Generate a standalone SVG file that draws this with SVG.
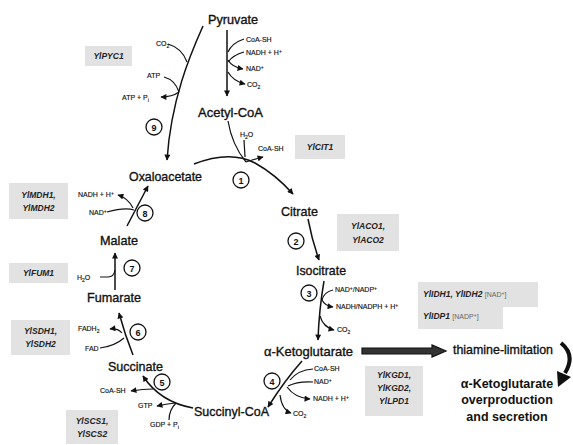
<svg xmlns="http://www.w3.org/2000/svg" width="573" height="445" viewBox="0 0 573 445">
<defs>
<marker id="ah" viewBox="0 0 10 10" refX="9" refY="5" markerWidth="7" markerHeight="6" markerUnits="userSpaceOnUse" orient="auto">
<path d="M0,0 L10,5 L0,10 z" fill="#111"/>
</marker>
<style>
.m{font-family:"Liberation Sans",Arial,sans-serif;font-size:13px;fill:#111;stroke:#111;stroke-width:0.35}
.s{font-family:"Liberation Sans",Arial,sans-serif;font-size:7px;fill:#111;stroke:#111;stroke-width:0.15}
.e{font-family:"Liberation Sans",Arial,sans-serif;font-size:8.5px;font-weight:bold;font-style:italic;fill:#222}
.g{font-family:"Liberation Sans",Arial,sans-serif;font-size:7px;fill:#666}
.box{fill:#e2e2e2}
.ln{fill:none;stroke:#111;stroke-width:1.5}
.br{fill:none;stroke:#111;stroke-width:1.2}
.c{fill:#fff;stroke:#111;stroke-width:1.3}
.n{font-family:"Liberation Sans",Arial,sans-serif;font-size:9px;font-weight:bold;fill:#111;text-anchor:middle}
.b{font-family:"Liberation Sans",Arial,sans-serif;font-size:12.5px;font-weight:bold;fill:#111;text-anchor:middle}
</style>
</defs>
<rect width="573" height="445" fill="#fff"/>

<g id="connectors">
<!-- Pyruvate -> Acetyl-CoA -->
<path class="ln" d="M227,30 L227,96" marker-end="url(#ah)"/>
<path class="br" d="M244,39 Q232,43 228,52"/>
<path class="br" d="M244,52 Q233,55 228,62"/>
<path class="br" d="M228,60 Q232,67 243,69" marker-end="url(#ah)"/>
<path class="br" d="M228,72 Q233,81 245,84" marker-end="url(#ah)"/>
<!-- reaction 9 -->
<path class="ln" d="M203,26 C190,55 171,100 167,160" marker-end="url(#ah)"/>
<path class="br" d="M168,44 Q182,48 187,62"/>
<path class="br" d="M164,77 Q175,80 179,92"/>
<path class="br" d="M179,92 Q172,97 161,97" marker-end="url(#ah)"/>
<!-- reaction 1 -->
<path class="ln" d="M194,164 Q230,150 255,163 Q275,174 293,194" marker-end="url(#ah)"/>
<path class="br" d="M228,121 Q232,145 246,162"/>
<path class="br" d="M244,140 L245,157"/>
<path class="br" d="M246,162 Q252,160 263,157" marker-end="url(#ah)"/>
<!-- reaction 2 -->
<path class="ln" d="M308,219 Q312,240 319,260" marker-end="url(#ah)"/>
<!-- reaction 3 -->
<path class="ln" d="M324,281 Q319,310 318,340" marker-end="url(#ah)"/>
<path class="br" d="M333,290 Q324,292 322,300"/>
<path class="br" d="M322,300 Q325,306 333,307" marker-end="url(#ah)"/>
<path class="br" d="M320,316 Q323,327 334,330" marker-end="url(#ah)"/>
<!-- reaction 4 -->
<path class="ln" d="M302,361 Q285,380 268,407" marker-end="url(#ah)"/>
<path class="br" d="M313,369 Q298,370 290,380"/>
<path class="br" d="M313,382 Q298,381 288,386"/>
<path class="br" d="M287,387 Q295,398 310,399" marker-end="url(#ah)"/>
<path class="br" d="M280,395 Q282,410 291,413" marker-end="url(#ah)"/>
<!-- reaction 5 -->
<path class="ln" d="M193,408 Q160,402 143,376" marker-end="url(#ah)"/>
<path class="br" d="M153,389 Q143,389 131,391" marker-end="url(#ah)"/>
<path class="br" d="M175,403 Q166,404 157,406" marker-end="url(#ah)"/>
<path class="br" d="M169,420 Q169,410 176,403"/>
<!-- reaction 6 -->
<path class="ln" d="M133,355 Q125,335 119,313" marker-end="url(#ah)"/>
<path class="br" d="M122,333 Q118,328 110,329" marker-end="url(#ah)"/>
<path class="br" d="M100,348 Q115,346 124,338"/>
<!-- reaction 7 -->
<path class="ln" d="M115,290 L115,253" marker-end="url(#ah)"/>
<path class="br" d="M100,277 L108,277 Q114,277 115,270"/>
<!-- reaction 8 -->
<path class="ln" d="M127,226 L148,186" marker-end="url(#ah)"/>
<path class="br" d="M133,208 Q128,198 118,195" marker-end="url(#ah)"/>
<path class="br" d="M107,212 Q125,207 134,210"/>
<!-- to thiamine-limitation -->
<path d="M362,348 L432,348 L432,345 L446,351 L432,357 L432,354 L362,354 Z" fill="#333" stroke="#111" stroke-width="1.2"/>
<!-- curved thick arrow -->
<path d="M561,343 Q576,355 565,373" fill="none" stroke="#111" stroke-width="4"/>
<polygon points="557,371 571,377 558,387" fill="#111"/>
</g>

<g id="pyruvate"><text class="m" x="208" y="24" textLength="50" lengthAdjust="spacingAndGlyphs">Pyruvate</text></g>
<g id="acetylcoa"><text class="m" x="198" y="117" textLength="65" lengthAdjust="spacingAndGlyphs">Acetyl-CoA</text></g>
<g id="oxaloacetate"><text class="m" x="129" y="181" textLength="73" lengthAdjust="spacingAndGlyphs">Oxaloacetate</text></g>
<g id="citrate"><text class="m" x="281" y="216" textLength="37" lengthAdjust="spacingAndGlyphs">Citrate</text></g>
<g id="isocitrate"><text class="m" x="296" y="275" textLength="50" lengthAdjust="spacingAndGlyphs">Isocitrate</text></g>
<g id="akg"><text class="m" x="264" y="356" textLength="89" lengthAdjust="spacingAndGlyphs">α-Ketoglutarate</text></g>
<g id="succinylcoa"><text class="m" x="194" y="416" textLength="75" lengthAdjust="spacingAndGlyphs">Succinyl-CoA</text></g>
<g id="succinate"><text class="m" x="108" y="371" textLength="55" lengthAdjust="spacingAndGlyphs">Succinate</text></g>
<g id="fumarate"><text class="m" x="87" y="302" textLength="54" lengthAdjust="spacingAndGlyphs">Fumarate</text></g>
<g id="malate"><text class="m" x="100" y="245" textLength="38" lengthAdjust="spacingAndGlyphs">Malate</text></g>

<g id="cofactors">
<text class="s" x="246" y="42">CoA-SH</text>
<text class="s" x="246" y="55">NADH + H<tspan font-size="5" dy="-2">+</tspan></text>
<text class="s" x="246" y="71">NAD<tspan font-size="5" dy="-2">+</tspan></text>
<text class="s" x="247" y="87">CO<tspan font-size="5" dy="2">2</tspan></text>
<text class="s" x="156" y="46">CO<tspan font-size="5" dy="2">2</tspan></text>
<text class="s" x="147" y="78">ATP</text>
<text class="s" x="122" y="100">ATP + P<tspan font-size="5" dy="2">i</tspan></text>
<text class="s" x="240" y="137">H<tspan font-size="5" dy="2">2</tspan><tspan dy="-2">O</tspan></text>
<text class="s" x="258" y="151">CoA-SH</text>
<text class="s" x="78" y="197">NADH + H<tspan font-size="5" dy="-2">+</tspan></text>
<text class="s" x="89" y="215">NAD<tspan font-size="5" dy="-2">+</tspan></text>
<text class="s" x="77" y="280">H<tspan font-size="5" dy="2">2</tspan><tspan dy="-2">O</tspan></text>
<text class="s" x="78" y="331">FADH<tspan font-size="5" dy="2">2</tspan></text>
<text class="s" x="85" y="351">FAD</text>
<text class="s" x="100" y="393">CoA-SH</text>
<text class="s" x="138" y="408">GTP</text>
<text class="s" x="150" y="427">GDP + P<tspan font-size="5" dy="2">i</tspan></text>
<text class="s" x="335" y="292">NAD<tspan font-size="5" dy="-2">+</tspan><tspan dy="2">/NADP</tspan><tspan font-size="5" dy="-2">+</tspan></text>
<text class="s" x="336" y="309">NADH/NADPH + H<tspan font-size="5" dy="-2">+</tspan></text>
<text class="s" x="337" y="332">CO<tspan font-size="5" dy="2">2</tspan></text>
<text class="s" x="314" y="371">CoA-SH</text>
<text class="s" x="314" y="384">NAD<tspan font-size="5" dy="-2">+</tspan></text>
<text class="s" x="313" y="401">NADH + H<tspan font-size="5" dy="-2">+</tspan></text>
<text class="s" x="293" y="416">CO<tspan font-size="5" dy="2">2</tspan></text>
</g>

<g id="steps">
<circle class="c" cx="154" cy="127" r="8"/><text class="n" x="154" y="130.5">9</text>
<circle class="c" cx="241" cy="180" r="8"/><text class="n" x="241" y="183.5">1</text>
<circle class="c" cx="296" cy="241" r="8"/><text class="n" x="296" y="244.5">2</text>
<circle class="c" cx="309" cy="293" r="8"/><text class="n" x="309" y="296.5">3</text>
<circle class="c" cx="272" cy="381" r="8"/><text class="n" x="272" y="384.5">4</text>
<circle class="c" cx="162" cy="382" r="8"/><text class="n" x="162" y="385.5">5</text>
<circle class="c" cx="138" cy="332" r="8"/><text class="n" x="138" y="335.5">6</text>
<circle class="c" cx="132" cy="268" r="8"/><text class="n" x="132" y="271.5">7</text>
<circle class="c" cx="145" cy="213" r="8"/><text class="n" x="145" y="216.5">8</text>
</g>

<g id="enzymes">
<rect class="box" x="85" y="46" width="47" height="20"/><text class="e" x="108.5" y="59" text-anchor="middle">YlPYC1</text>
<rect class="box" x="295" y="135" width="50" height="24"/><text class="e" x="320" y="150" text-anchor="middle">YlCIT1</text>
<rect class="box" x="9" y="183" width="59" height="36"/><text class="e" x="38.5" y="198" text-anchor="middle">YlMDH1,</text><text class="e" x="38.5" y="211" text-anchor="middle">YlMDH2</text>
<rect class="box" x="9" y="263" width="59" height="20"/><text class="e" x="38.5" y="276" text-anchor="middle">YlFUM1</text>
<rect class="box" x="11" y="320" width="59" height="35"/><text class="e" x="40.5" y="334" text-anchor="middle">YlSDH1,</text><text class="e" x="40.5" y="347" text-anchor="middle">YlSDH2</text>
<rect class="box" x="66" y="410" width="52" height="34"/><text class="e" x="92" y="424" text-anchor="middle">YlSCS1,</text><text class="e" x="92" y="437" text-anchor="middle">YlSCS2</text>
<rect class="box" x="337" y="214" width="62" height="37"/><text class="e" x="368" y="229" text-anchor="middle">YlACO1,</text><text class="e" x="368" y="243" text-anchor="middle">YlACO2</text>
<rect class="box" x="418" y="282" width="120" height="25"/><rect class="box" x="418" y="307" width="85" height="22"/>
<text class="e" x="423" y="297">YlIDH1, YlIDH2 <tspan class="g" font-weight="normal" font-style="normal">[NAD<tspan font-size="5" dy="-2">+</tspan><tspan dy="2">]</tspan></tspan></text>
<text class="e" x="423" y="319">YlIDP1 <tspan class="g" font-weight="normal" font-style="normal">[NADP<tspan font-size="5" dy="-2">+</tspan><tspan dy="2">]</tspan></tspan></text>
<rect class="box" x="365" y="366" width="58" height="50"/><text class="e" x="394" y="378" text-anchor="middle">YlKGD1,</text><text class="e" x="394" y="391" text-anchor="middle">YlKGD2,</text><text class="e" x="394" y="404" text-anchor="middle">YlLPD1</text>
</g>

<g id="outcome">
<text class="m" x="453" y="354" font-size="12" textLength="100" lengthAdjust="spacingAndGlyphs">thiamine-limitation</text>
<text class="b" x="507" y="388">α-Ketoglutarate</text>
<text class="b" x="507" y="404">overproduction</text>
<text class="b" x="507" y="421">and secretion</text>
</g>
</svg>
